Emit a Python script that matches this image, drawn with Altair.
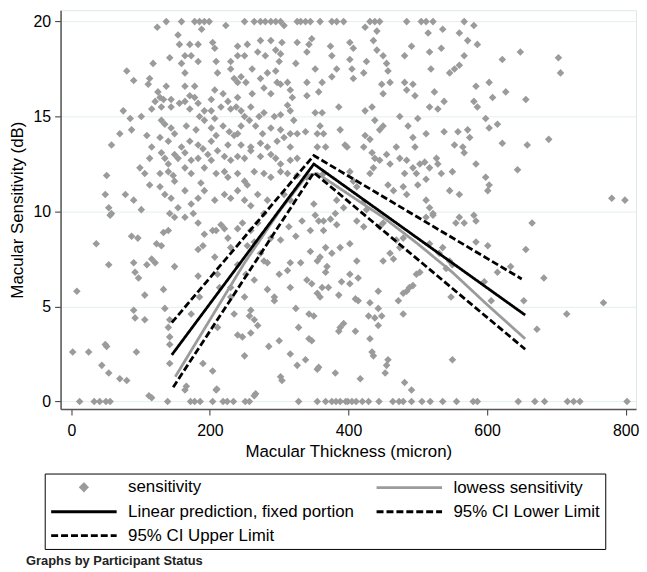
import altair as alt
import pandas as pd

# ---- scatter points (Macular Thickness micron, Macular Sensitivity dB) ----
upper_left = [
    (124,19.7),(137,20),(159,20),(178,20),(185,20),(192,20),(199,20),(188,19.6),(223,19.8),(250,20),(264,20),(273,20),
    (280,20),(288,20),(295,20),(302,20),(307,19.8),(326,20),(331,20),(338,20),(345,20),(359,20),
    (154,19.3),(156,18.8),(171,18.8),(183,18.8),(204,18.9),(207,18.6),(240,18.7),(254,18.8),(273,19.0),(288,19.0),
    (304,18.9),(326,18.9),(343,18.8),(347,19.1),(340,18.4),
    (80,17.4),(90,16.9),(118,17.8),(142,18.1),(159,17.8),(164,18.2),(173,18.2),(183,17.9),(209,17.9),(230,17.9),
    (240,18.2),(250,18.2),(269,18.4),(280,18.2),(295,18.5),(302,18.3),(300,17.9),(324,17.8),(352,17.5),
    (164,17.3),(211,17.3),(230,17.5),(235,17.0),(240,16.8),(245,17.1),(252,16.8),(261,17.5),(273,17.0),(283,17.3),
    (295,17.4),(297,16.8),(312,16.8),(340,16.8),(113,17.0),(111,16.7),(164,16.6),(178,16.6),
    (125,16.3),(137,16.6),(128,16.0),(121,15.8),(133,15.9),(144,15.9),(164,15.8),(171,16.1),(178,16.0),(183,15.7),
    (202,15.9),(207,16.4),(219,16.2),(226,15.8),(240,16.0),(261,16.2),(278,16.5),(288,16.2),(302,16.7),(316,16.4),
    (319,16.0),(340,16.1),(357,16.3),
    (75,15.3),(85,14.9),(101,15.0),(116,15.4),(130,15.5),(144,15.5),(156,15.7),(171,15.4),(185,15.0),(192,15.3),
    (202,15.3),(207,14.9),(216,15.5),(230,15.4),(238,15.5),(245,15.3),(250,15.0),(259,15.5),(271,15.0),(278,15.2),
    (293,15.0),(302,15.1),(312,15.6),(316,15.3),(321,14.8),(352,15.2),
    (58,13.5),(70,14.1),(87,14.3),(109,14.0),(116,13.4),(130,14.8),(135,14.6),(144,14.4),(149,14.1),(166,14.5),
    (180,14.3),(192,14.8),(202,14.4),(209,14.0),(219,14.5),(228,14.2),(240,14.1),(245,14.5),(257,14.8),(266,14.5),
    (276,14.1),(288,14.4),(302,14.3),(316,14.1),(326,14.1),(338,14.2),(355,14.1),
    (99,12.3),(106,12.0),(128,13.9),(140,13.7),(159,13.4),(171,13.7),(183,13.5),(190,13.3),(202,13.7),(226,13.5),
    (235,14.0),(245,13.5),(259,13.4),(273,13.6),(283,13.4),(297,13.7),(307,13.9),(316,13.4),
    (113,12.8),(130,13.1),(135,12.8),(140,12.5),(149,13.0),(154,12.8),(164,13.1),(173,12.7),(183,12.8),(197,13.0),
    (202,12.7),(211,13.2),(221,12.9),(230,12.7),(240,12.9),(250,12.8),(259,13.2),(273,12.9),(288,13.0),(295,12.8),
    (302,12.5),(316,12.7),(326,12.8),
    (51,11.9),(113,11.4),(128,12.0),(140,12.1),(147,11.9),(149,11.6),(164,12.3),(173,12.0),(187,11.5),(192,12.3),
    (209,12.0),(221,12.1),(226,11.8),(240,12.0),(250,11.6),(254,11.4),(264,12.1),(278,12.0),(288,11.8),(302,12.1),
    (312,12.0),(326,11.9),(340,11.8),
    (49,10.9),(78,10.9),(90,10.6),(101,10.1),(128,11.3),(135,10.9),(144,10.7),(154,10.2),(164,11.1),(173,10.4),
    (183,10.7),(192,11.1),(207,10.6),(221,10.9),(230,10.7),(240,11.1),(250,10.6),(259,10.3),(269,10.9),(283,10.6),
    (307,10.9),(316,10.6),(350,10.4),(54,10.2),(58,9.9),
]

upper_right = [
    (376,20),(383,20),(393,20),(431,20),(438,20),(445,20),(484,20),(505,20),(512,20),(522,20),(567,20),(581,19.8),
    (424,19.7),(441,19.5),(515,19.4),(536,19.6),(560,19.4),(572,19.0),(586,18.8),(402,18.9),(407,18.6),(374,18.7),
    (376,18.2),(436,19.0),(441,18.5),(481,18.2),(491,18.7),(517,18.4),(534,18.6),(567,18.2),(560,17.7),(553,17.5),
    (546,17.3),(622,18.0),(648,18.4),(703,18.1),(706,17.3),
    (402,18.0),(405,17.5),(426,17.9),(422,17.3),(407,17.0),(383,17.5),(376,17.1),(362,16.8),(450,18.2),(455,17.8),
    (457,17.4),(460,16.8),(448,16.7),(450,16.2),(481,16.8),(484,16.4),(493,16.7),(496,16.1),(519,17.5),(524,16.3),
    (538,15.8),(584,16.6),(603,16.8),(608,16.0),(627,16.3),(656,15.9),(581,15.8),(586,15.5),(517,15.5),(529,15.4),
    (362,15.2),(386,15.5),(424,15.3),(434,15.5),(438,14.8),(445,14.3),(450,14.5),(359,14.5),(364,14.1),(388,14.3),
    (395,13.5),(474,15.0),(486,14.5),(500,14.9),(598,14.9),(603,14.4),(615,14.6),(538,14.2),(558,14.2),(572,14.3),
    (575,13.9),(512,14.1),
    (455,13.0),(469,13.4),(424,14.0),(431,13.8),(422,13.4),(493,13.9),(496,13.4),(553,13.5),(565,13.4),(567,13.1),
    (622,13.6),(658,13.5),(689,13.8),(644,12.2),(355,13.4),(367,13.4),(398,13.4),(434,13.1),(438,12.8),(445,12.7),
    (460,12.5),(474,12.8),(484,12.7),(493,12.3),(503,12.5),(510,12.6),(517,12.3),(527,12.8),(529,12.5),(534,12.0),
    (550,12.1),(546,11.1),(560,10.9),(584,12.5),(598,11.8),(603,11.4),(601,11.1),(481,12.0),(498,12.0),(500,11.4),
    (512,11.7),(457,11.4),(465,11.1),(436,12.3),(431,12.0),(479,11.3),(484,10.9),
    (364,12.0),(402,12.1),(407,11.6),(412,11.3),(383,10.6),(393,10.2),(381,9.9),(780,10.7),(799,10.6),(512,10.6),
    (517,10.2),(522,9.9),(422,10.5),(426,10.1),
]

lower_left = [
    (8,5.8),(2,2.6),(25,2.6),(36,8.3),(49,3.0),(51,2.9),(54,7.2),(56,9.8),(44,1.9),(54,1.5),(70,1.2),(80,1.1),
    (87,8.7),(96,8.6),(90,7.3),(92,6.8),(97,6.5),(90,4.8),(92,4.4),(106,4.3),(94,2.6),(106,5.6),(109,7.2),(116,7.5),
    (121,7.3),(116,0.2),(123,8.3),(130,8.2),(133,8.9),(140,9.0),(142,9.9),(149,9.7),(133,5.9),(135,4.9),(142,4.3),
    (140,3.9),(142,3.4),(142,3.0),(142,2.0),(149,7.1),(164,0.6),(173,4.6),(183,8.0),(190,8.2),(190,2.0),(204,1.6),
    (209,0.6),(211,3.9),(207,7.6),(209,9.0),(221,9.1),(226,8.6),(230,8.1),(230,6.0),(240,3.5),(247,3.4),(250,2.4),
    (259,3.6),(264,4.3),(269,4.0),(257,4.5),(264,0.3),(259,9.0),(264,8.4),(273,7.8),(278,7.4),(285,2.9),(293,5.5),
    (293,5.3),(300,3.2),(302,1.3),(304,1.1),(314,9.2),(324,8.7),(300,6.7),(312,6.9),(316,6.0),(316,2.5),(326,1.9),
    (338,2.2),(324,4.9),(328,3.9),(331,7.3),(345,7.9),(343,3.3),(347,3.2),(355,1.7),(352,9.8),(357,9.5),(345,9.0),
    (355,7.4),(347,6.2),(355,5.7),(362,6.0),(343,4.6),(350,4.5),(364,9.0),
    (164,9.7),(176,9.9),(183,9.4),(192,8.8),(204,9.0),(216,9.3),(240,9.1),(247,9.4),(269,9.4),(278,9.9),(240,7.2),
    (252,6.7),(264,6.4),(254,8.2),(288,8.6),(283,7.3),(302,8.5),(333,9.5),(283,5.9),(250,5.5),(259,4.8),(211,6.7),
    (214,6.0),(183,6.6),(185,5.5),(230,5.5),(235,4.6),(316,7.3),(340,6.4),(367,8.1),
    (112,0.3),(166,0.8),(210,0.65),(266,0.4),
]

lower_right = [
    (665,9.4),(656,8.0),(682,6.5),(653,5.3),(672,3.8),(715,4.6),(768,5.2),(550,2.2),(581,9.8),(584,9.5),(560,9.7),
    (555,9.4),(567,9.4),(601,8.2),(615,6.8),(634,7.1),(584,8.4),(596,6.3),(606,5.3),(548,5.5),(546,7.4),(550,7.2),
    (541,7.0),(531,7.8),(536,8.1),(517,8.3),(498,6.7),(503,6.8),(493,6.1),(488,6.0),(484,5.8),(479,5.7),(472,5.3),
    (479,4.6),(443,5.8),(448,4.5),(443,4.0),(438,4.4),(431,3.3),(434,2.6),(436,2.4),(457,2.2),(455,1.9),(453,1.5),
    (417,1.2),(381,1.5),(393,4.1),(388,3.9),(386,3.7),(410,3.7),(357,1.8),(481,1.0),(491,0.6),(429,4.5),(431,5.2),
    (443,4.9),(412,7.4),(414,6.5),(402,6.7),(367,6.8),(376,7.8),(388,8.1),(402,8.3),(390,6.3),(402,6.2),(414,5.3),
    (386,5.6),(410,5.4),(371,6.0),(359,5.5),(359,7.6),(369,7.1),(364,9.5),(374,9.6),(383,9.3),(450,7.4),(460,7.8),
    (465,7.5),(474,8.1),(469,8.5),(479,8.6),(422,9.2),(412,9.5),(445,9.2),(450,9.4),(512,9.7),(522,9.8),
]

# thickness values of points lying at sensitivity 0 dB
zero_sens_thickness = [12,33,41,50,56,139,172,178,186,204,219,225,234,251,257,328,355,367,376,382,388,396,399,
                       405,411,420,429,444,464,473,479,491,506,518,536,556,580,586,645,669,683,716,725,734,802]

# ---- fitted lines ----
lin_x = [145, 350, 655]
lin_y = [2.45, 12.5, 4.55]
upper_x = [145, 350, 650]
upper_y = [4.15, 12.95, 6.45]
lower_x = [147, 350, 655]
lower_y = [0.75, 12.05, 2.75]
lowess_x = [150, 200, 250, 300, 340, 355, 380, 450, 500, 550, 600, 655]
lowess_y = [1.3, 4.3, 7.3, 10.0, 11.9, 12.0, 11.4, 9.7, 8.3, 6.8, 5.1, 3.3]

S_PTS = "sensitivity"
S_LOW = "lowess  sensitivity"
S_LIN = "Linear prediction, fixed portion"
S_LO = "95% CI Lower Limit"
S_UP = "95% CI Upper Limit"
series_order = [S_PTS, S_LOW, S_LIN, S_LO, S_UP]

pts = upper_left + upper_right + lower_left + lower_right + [(t, 0) for t in zero_sens_thickness]
pts_df = pd.DataFrame({"thickness": [p[0] for p in pts],
                       "sens": [p[1] for p in pts],
                       "series": S_PTS})

rows = []
for name, xs_, ys_ in [(S_LOW, lowess_x, lowess_y), (S_LIN, lin_x, lin_y),
                       (S_LO, lower_x, lower_y), (S_UP, upper_x, upper_y)]:
    for a, b in zip(xs_, ys_):
        rows.append({"thickness": a, "sens": b, "series": name})
lines_df = pd.DataFrame(rows)

FONT = "Liberation Sans"
x_scale = alt.Scale(domain=[-15.5, 815], nice=False, zero=False)
y_scale = alt.Scale(domain=[-0.4, 20.6], nice=False, zero=False)
x_axis = alt.Axis(values=[0, 200, 400, 600, 800], grid=False, title="Macular Thickness (micron)",
                  tickSize=6, labelPadding=8, titlePadding=5)
y_axis = alt.Axis(values=[0, 5, 10, 15, 20], grid=True, title="Macular Sensitivity (dB)",
                  tickSize=6, labelPadding=4, titlePadding=7)

# legend symbols: long horizontal strokes for lines, small diamond centred over the same span
LINE_PATH = "M-3.5,0H29.5"
DIAMOND_PATH = "M13,-1.6L14.6,0L13,1.6L11.4,0Z"
color_scale = alt.Scale(domain=series_order, range=["#9b9b9b", "#9b9b9b", "#000000", "#000000", "#000000"])
shape_scale = alt.Scale(domain=series_order, range=[DIAMOND_PATH, LINE_PATH, LINE_PATH, LINE_PATH, LINE_PATH])
dash_scale = alt.Scale(domain=series_order, range=[[1, 0], [1, 0], [1, 0], [7, 3], [7, 3]])

legend = alt.Legend(title=None, orient="none", legendX=-16, legendY=467, columns=2, direction="horizontal")

points = alt.Chart(pts_df).mark_point(filled=True, opacity=1, shape="diamond", size=58).encode(
    x=alt.X("thickness:Q", scale=x_scale, axis=x_axis),
    y=alt.Y("sens:Q", scale=y_scale, axis=y_axis),
    color=alt.Color("series:N", scale=color_scale, legend=legend),
)

lines = alt.Chart(lines_df).mark_line(strokeWidth=2.8).encode(
    x=alt.X("thickness:Q", scale=x_scale, axis=x_axis),
    y=alt.Y("sens:Q", scale=y_scale, axis=y_axis),
    color=alt.Color("series:N", scale=color_scale, legend=legend),
    strokeDash=alt.StrokeDash("series:N", scale=dash_scale, legend=legend),
)

# legend-only layer (filtered to no rows) that supplies the symbol shapes
legend_shapes = alt.Chart(lines_df).transform_filter("false").mark_point(filled=True, opacity=1).encode(
    x=alt.X("thickness:Q", scale=x_scale, axis=x_axis),
    y=alt.Y("sens:Q", scale=y_scale, axis=y_axis),
    color=alt.Color("series:N", scale=color_scale, legend=legend),
    shape=alt.Shape("series:N", scale=shape_scale, legend=legend),
)

chart = alt.layer(points, lines, legend_shapes).properties(
    width=580, height=402, padding={"left": 0, "top": 0, "right": 0, "bottom": 0},
    title=alt.TitleParams("Graphs by Participant Status", orient="bottom", anchor="start", frame="bounds",
                          fontSize=13, fontWeight="bold", font=FONT, color="#222", offset=6, dx=18),
).configure_view(
    stroke="#dde8ea", strokeWidth=1
).configure_axis(
    labelFont=FONT, titleFont=FONT, labelFontSize=16, titleFontSize=17, labelColor="black",
    titleColor="black", titleFontWeight="normal", tickColor="#333", domainColor="#555", domainWidth=1.5,
    gridColor="#e3eef0", gridWidth=1
).configure_legend(
    labelFont=FONT, labelFontSize=17, labelColor="black", labelLimit=400, symbolStrokeWidth=2.8,
    symbolSize=16, labelOffset=62, strokeColor="#000", fillColor="white", padding=5, rowPadding=6,
    columnPadding=16, symbolOpacity=1
)

chart.save("out.html", embed_options={"renderer": "svg", "actions": False})
